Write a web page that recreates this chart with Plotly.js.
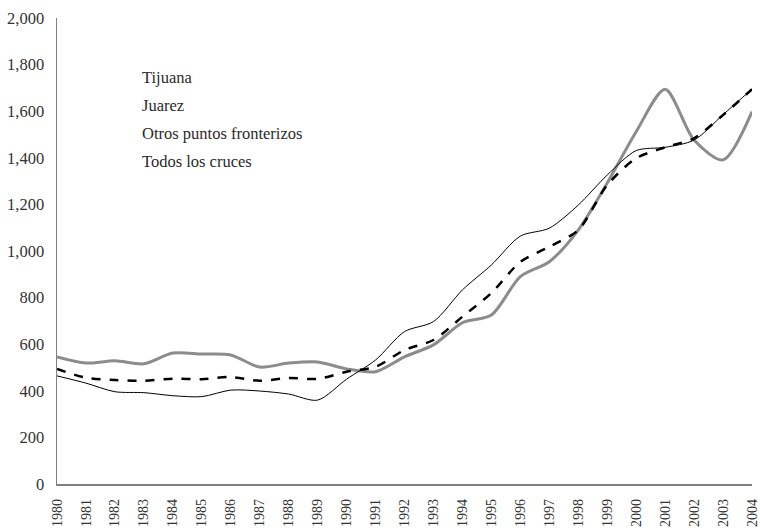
<!DOCTYPE html>
<html>
<head>
<meta charset="utf-8">
<script src="https://cdn.plot.ly/plotly-3.0.1.min.js"></script>
<style>html,body{margin:0;padding:0;background:#fff;}#chart{width:760px;height:530px;}</style>
</head>
<body>
<div id="chart"></div>
<script>
const years = [1980,1981,1982,1983,1984,1985,1986,1987,1988,1989,1990,1991,1992,1993,1994,1995,1996,1997,1998,1999,2000,2001,2002,2003,2004];
const tijuana = [464,433,396,392,379,375,403,399,386,360,450,532,654,697,833,940,1064,1098,1197,1326,1431,1445,1476,1585,1695];
const juarez = [545,519,529,516,562,558,554,502,519,524,494,482,546,597,692,725,890,954,1090,1292,1512,1694,1476,1391,1598];
const todos = [494,456,446,443,452,450,459,443,455,451,482,503,575,618,718,820,953,1018,1090,1283,1398,1445,1484,1584,1694];
const legendLabels = ["Tijuana","Juarez","Otros puntos fronterizos","Todos los cruces"];
const yTicks = [0,200,400,600,800,1000,1200,1400,1600,1800,2000];

const serif = "Liberation Serif, Times New Roman, serif";

const traces = [
  {x: years, y: juarez, name: legendLabels[1], mode: "lines",
   line: {color: "#8c8c8c", width: 3, shape: "spline", smoothing: 0.8}},
  {x: years, y: tijuana, name: legendLabels[0], mode: "lines",
   line: {color: "#000000", width: 1, shape: "spline", smoothing: 0.8}},
  {x: years, y: todos, name: legendLabels[3], mode: "lines",
   line: {color: "#000000", width: 2.5, dash: "dash", shape: "spline", smoothing: 0.8}}
];

const annotations = legendLabels.map((t, i) => ({
  text: t, xref: "paper", yref: "paper",
  x: 0.12, y: 0.873 - i * 0.0605,
  xanchor: "left", yanchor: "middle", showarrow: false,
  font: {family: serif, size: 16.5, color: "#2a2a2a"}
}));

const layout = {
  width: 760, height: 530,
  margin: {l: 57, r: 8, t: 18, b: 46},
  paper_bgcolor: "#fff", plot_bgcolor: "#fff",
  showlegend: false,
  xaxis: {
    range: [1980, 2004], tickmode: "array", tickvals: years, ticktext: years.map(String),
    tickangle: -90, showgrid: false, zeroline: false, showline: true,
    linecolor: "#808080", linewidth: 1.5, ticks: "", ticklabelstandoff: 8,
    tickfont: {family: serif, size: 14, color: "#333"}
  },
  yaxis: {
    range: [0, 2000], tickmode: "array", tickvals: yTicks,
    ticktext: yTicks.map(v => v.toLocaleString("en-US")),
    showgrid: false, zeroline: false, showline: true,
    linecolor: "#808080", linewidth: 1.5, ticks: "", ticklabelstandoff: 8,
    tickfont: {family: serif, size: 16.5, color: "#333"}
  },
  annotations: annotations
};

Plotly.newPlot("chart", traces, layout, {displayModeBar: false, staticPlot: true});
</script>
</body>
</html>
